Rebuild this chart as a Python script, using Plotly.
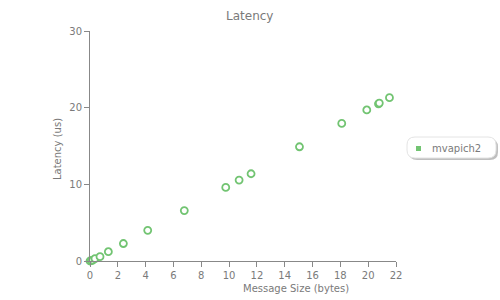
import plotly.graph_objects as go

series_name = "mvapich2"
msg_size = [0.0, 0.1, 0.2, 0.36, 0.72, 1.32, 2.40, 4.15, 6.78, 9.76, 10.72, 11.58, 15.06, 18.1, 19.9, 20.74, 20.8, 21.53]
latency = [0.0, 0.05, 0.12, 0.3, 0.56, 1.21, 2.28, 4.0, 6.58, 9.6, 10.56, 11.38, 14.9, 17.95, 19.7, 20.5, 20.6, 21.3]
x_ticks = [0, 2, 4, 6, 8, 10, 12, 14, 16, 18, 20, 22]
y_ticks = [0, 10, 20, 30]
title_text = "Latency"
x_title = "Message Size (bytes)"
y_title = "Latency (us)"

green = "#72c472"
gray = "#7a7a7a"

W, H = 500, 300
L, R, T, B = 90, 396, 31, 261

def to_paper(x, y):
    return (x - L) / (R - L), (B - y) / (B - T)

def P(x, y):
    a, b = to_paper(x, y)
    return f"{a:.5f},{b:.5f}"

def rrect_path(x0, y0, x1, y1, r):
    return (f"M{P(x0+r,y0)} L{P(x1-r,y0)} Q{P(x1,y0)} {P(x1,y0+r)} "
            f"L{P(x1,y1-r)} Q{P(x1,y1)} {P(x1-r,y1)} L{P(x0+r,y1)} "
            f"Q{P(x0,y1)} {P(x0,y1-r)} L{P(x0,y0+r)} Q{P(x0,y0)} {P(x0+r,y0)} Z")

fig = go.Figure()
fig.add_trace(go.Scatter(
    x=msg_size, y=latency, mode="markers", showlegend=False, name=series_name,
    marker=dict(symbol="circle", size=7, color="white",
                line=dict(color=green, width=1.8)),
    cliponaxis=False,
))

shapes = []
shapes.append(dict(type="path", xref="paper", yref="paper",
                   path=rrect_path(409, 139, 498, 160, 8),
                   line=dict(color="rgba(0,0,0,0)", width=0),
                   fillcolor="rgba(0,0,0,0.25)", layer="below"))
shapes.append(dict(type="path", xref="paper", yref="paper",
                   path=rrect_path(407, 137, 496, 158, 8),
                   line=dict(color="#e4e4e4", width=1),
                   fillcolor="white", layer="below"))
sx0, sy0 = to_paper(416, 146)
sx1, sy1 = to_paper(421, 151)
shapes.append(dict(type="rect", xref="paper", yref="paper",
                   x0=sx0, y0=sy0, x1=sx1, y1=sy1,
                   line=dict(width=0), fillcolor=green))

tx, ty = to_paper(430, 148)
xtx, xty = to_paper(296, 288)
ytx, yty = to_paper(57, 149)
ttx, tty = to_paper(249, 16)
annotations = [
    dict(text=series_name, xref="paper", yref="paper", x=tx, y=ty,
         xanchor="left", yanchor="middle", showarrow=False,
         font=dict(size=10, color=gray)),
    dict(text=x_title, xref="paper", yref="paper", x=xtx, y=xty,
         xanchor="center", yanchor="middle", showarrow=False,
         font=dict(size=10, color=gray)),
    dict(text=y_title, xref="paper", yref="paper", x=ytx, y=yty, textangle=-90,
         xanchor="center", yanchor="middle", showarrow=False,
         font=dict(size=10, color=gray)),
    dict(text=title_text, xref="paper", yref="paper", x=ttx, y=tty,
         xanchor="center", yanchor="middle", showarrow=False,
         font=dict(size=12, color=gray)),
]

fig.update_layout(
    width=W, height=H,
    margin=dict(l=L, r=W - R, t=T, b=H - B),
    paper_bgcolor="white", plot_bgcolor="white",
    font=dict(family="DejaVu Sans", size=10, color=gray),
    showlegend=False,
    shapes=shapes,
    annotations=annotations,
    xaxis=dict(range=[0, 22], tickvals=x_ticks, showgrid=False, zeroline=False,
               showline=True, linecolor="#888888", linewidth=1,
               ticks="outside", ticklen=5, tickcolor="#888888",
               tickfont=dict(size=10, color=gray), automargin=False),
    yaxis=dict(range=[0, 30], tickvals=y_ticks, showgrid=False, zeroline=False,
               showline=True, linecolor="#888888", linewidth=1,
               ticks="outside", ticklen=5, tickcolor="#888888",
               tickfont=dict(size=10, color=gray), automargin=False),
)
fig.write_html("out.html")
